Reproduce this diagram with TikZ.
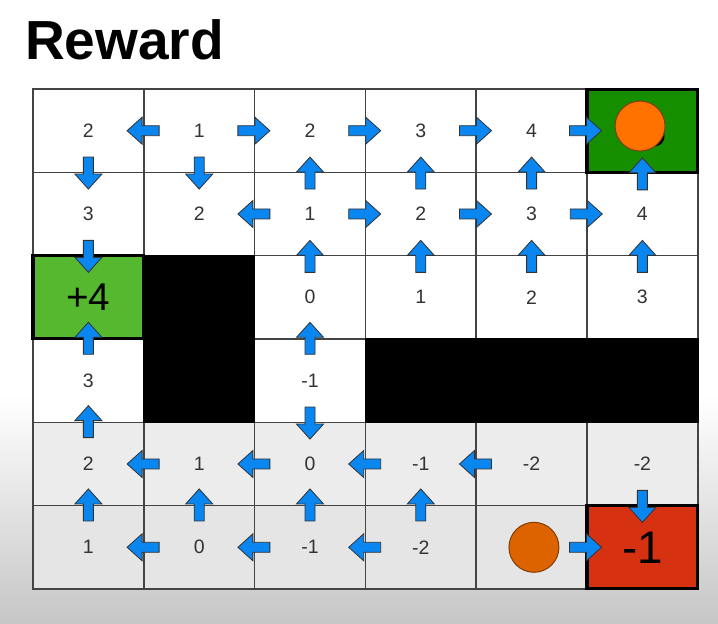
\documentclass[tikz,border=0pt]{standalone}
\usepackage{fontspec}
\setmainfont{Liberation Sans}
\usepackage{tikz}
\usetikzlibrary{shapes.geometric}
\definecolor{gridline}{HTML}{444444}
\definecolor{numtext}{HTML}{333333}
\definecolor{goalgreen}{HTML}{158F00}
\definecolor{plusgreen}{HTML}{55B82E}
\definecolor{losered}{HTML}{D63212}
\definecolor{arrowblue}{HTML}{0A86F0}
\definecolor{ballorange}{HTML}{FF7200}
\definecolor{balldark}{HTML}{DD6300}
\definecolor{ballline}{HTML}{7A3A00}
\definecolor{bggray}{HTML}{C6C6C6}
\definecolor{rowfour}{HTML}{ECECEC}
\definecolor{rowfive}{HTML}{E5E5E5}
\tikzstyle{cell} = [rectangle, minimum width=3.324cm, minimum height=2.5cm, inner sep=0pt, draw=gridline, line width=1.2pt, fill=white, text=numtext, font=\fontsize{16.6}{18}\selectfont]
\tikzstyle{wall} = [rectangle, minimum width=3.324cm, minimum height=2.5cm, inner sep=0pt, fill=black, draw=black, line width=1.2pt]
\tikzstyle{terminal} = [rectangle, minimum width=3.324cm, minimum height=2.5cm, inner sep=0pt, draw=black, line width=2.6pt, text=black]
\tikzstyle{ball} = [circle, minimum size=1.5cm, inner sep=0pt, draw=ballline, line width=0.8pt]
\tikzset{policy/.pic={\filldraw[fill=arrowblue, draw=black!80, line width=0.7pt] (-16,-5) -- (1,-5) -- (1,-13.5) -- (16,0) -- (1,13.5) -- (1,5) -- (-16,5) -- cycle;}}

\begin{document}
\begin{tikzpicture}[x=0.03cm, y=-0.03cm]
    \useasboundingbox (0,0) rectangle (718,624);
    \fill[white] (0,0) rectangle (718,624);
    \shade[top color=white, bottom color=bggray] (0,395) rectangle (718,624);

    \node (reward-title) [anchor=base west, font=\fontsize{47}{50}\selectfont\bfseries] at (21,60) {Reward};

    % grid
    \node (s00) [cell] at (88.4,130.7) {2};
    \node (s01) [cell] at (199.2,130.7) {1};
    \node (s02) [cell] at (310.0,130.7) {2};
    \node (s03) [cell] at (420.8,130.7) {3};
    \node (s04) [cell] at (531.6,130.7) {4};
    \node (s10) [cell] at (88.4,214.0) {3};
    \node (s11) [cell] at (199.2,214.0) {2};
    \node (s12) [cell] at (310.0,214.0) {1};
    \node (s13) [cell] at (420.8,214.0) {2};
    \node (s14) [cell] at (531.6,214.0) {3};
    \node (s15) [cell] at (642.4,214.0) {4};
    \node (s22) [cell] at (310.0,297.3) {0};
    \node (s23) [cell] at (420.8,297.3) {1};
    \node (s24) [cell] at (531.6,297.3) {2};
    \node (s25) [cell] at (642.4,297.3) {3};
    \node (s30) [cell] at (88.4,380.7) {3};
    \node (s32) [cell] at (310.0,380.7) {-1};
    \node (s40) [cell, fill=rowfour] at (88.4,464.0) {2};
    \node (s41) [cell, fill=rowfour] at (199.2,464.0) {1};
    \node (s42) [cell, fill=rowfour] at (310.0,464.0) {0};
    \node (s43) [cell, fill=rowfour] at (420.8,464.0) {-1};
    \node (s44) [cell, fill=rowfour] at (531.6,464.0) {-2};
    \node (s45) [cell, fill=rowfour] at (642.4,464.0) {-2};
    \node (s50) [cell, fill=rowfive] at (88.4,547.3) {1};
    \node (s51) [cell, fill=rowfive] at (199.2,547.3) {0};
    \node (s52) [cell, fill=rowfive] at (310.0,547.3) {-1};
    \node (s53) [cell, fill=rowfive] at (420.8,547.3) {-2};
    \node (s54) [cell, fill=rowfive] at (531.6,547.3) {};

    % walls
    \node (s21) [wall] at (199.2,297.3) {};
    \node (s31) [wall] at (199.2,380.7) {};
    \node (s33) [wall] at (420.8,380.7) {};
    \node (s34) [wall] at (531.6,380.7) {};
    \node (s35) [wall] at (642.4,380.7) {};

    % end states
    \node (s05) [terminal, fill=goalgreen, label={[font=\fontsize{39}{40}\selectfont, xshift=0.36cm]center:5}] at (642.4,130.7) {};
    \node (s20) [terminal, fill=plusgreen, font=\fontsize{33}{34}\selectfont] at (88.4,297.3) {+4};
    \node (s55) [terminal, fill=losered, font=\fontsize{39}{40}\selectfont] at (642.4,547.3) {-1};

    \node (agent-end) [ball, fill=ballorange, xshift=-0.07cm, yshift=0.14cm] at (s05) {};
    \node (agent) [ball, fill=balldark, xshift=0.07cm] at (s54) {};

    % policy arrows
    \pic[rotate=180] at (s01.west) {policy};
    \pic at (s02.west) {policy};
    \pic at (s03.west) {policy};
    \pic at (s04.west) {policy};
    \pic at (s05.west) {policy};
    \pic[rotate=-90] at (s00.south) {policy};
    \pic[rotate=-90] at (s01.south) {policy};
    \pic[rotate=90] at (s02.south) {policy};
    \pic[rotate=90] at (s03.south) {policy};
    \pic[rotate=90] at (s04.south) {policy};
    \pic[rotate=90] at (s05.south) {policy};

    \pic[rotate=180] at (s12.west) {policy};
    \pic at (s13.west) {policy};
    \pic at (s14.west) {policy};
    \pic at (s15.west) {policy};
    \pic[rotate=-90] at (s10.south) {policy};
    \pic[rotate=90] at (s12.south) {policy};
    \pic[rotate=90] at (s13.south) {policy};
    \pic[rotate=90] at (s14.south) {policy};
    \pic[rotate=90] at (s15.south) {policy};

    \pic[rotate=90] at (s30.north) {policy};
    \pic[rotate=90] at (s32.north) {policy};
    \pic[rotate=90] at (s40.north) {policy};
    \pic[rotate=-90] at (s32.south) {policy};

    \pic[rotate=180] at (s41.west) {policy};
    \pic[rotate=180] at (s42.west) {policy};
    \pic[rotate=180] at (s43.west) {policy};
    \pic[rotate=180] at (s44.west) {policy};
    \pic[rotate=90] at (s50.north) {policy};
    \pic[rotate=90] at (s51.north) {policy};
    \pic[rotate=90] at (s52.north) {policy};
    \pic[rotate=90] at (s53.north) {policy};
    \pic[rotate=-90] at (s45.south) {policy};

    \pic[rotate=180] at (s51.west) {policy};
    \pic[rotate=180] at (s52.west) {policy};
    \pic[rotate=180] at (s53.west) {policy};
    \pic at (s55.west) {policy};
\end{tikzpicture}
\end{document}
